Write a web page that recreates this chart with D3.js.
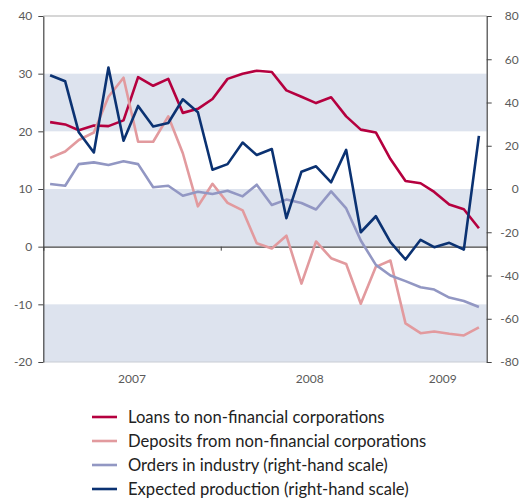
<!DOCTYPE html>
<html>
<head>
<meta charset="utf-8">
<script src="https://cdn.jsdelivr.net/npm/d3@7"></script>
<style>
  body { margin: 0; background: #fff; }
  svg { font-family: Lato, "Open Sans", sans-serif; }
</style>
</head>
<body>
<script>
'use strict';

// months, one point per month (mid-month)
const months = [
  '2007-01', '2007-02', '2007-03', '2007-04', '2007-05', '2007-06',
  '2007-07', '2007-08', '2007-09', '2007-10', '2007-11', '2007-12',
  '2008-01', '2008-02', '2008-03', '2008-04', '2008-05', '2008-06',
  '2008-07', '2008-08', '2008-09', '2008-10', '2008-11', '2008-12',
  '2009-01', '2009-02', '2009-03', '2009-04', '2009-05', '2009-06'
];

// left scale (per cent)
const loans = [21.6, 21.2, 20.2, 21.0, 20.9, 21.9, 29.4, 27.9, 29.1, 23.2,
  23.9, 25.6, 29.1, 30.0, 30.5, 30.3, 27.1, 26.0, 24.9, 25.9,
  22.6, 20.3, 19.8, 15.2, 11.4, 11.0, 9.5, 7.3, 6.5, 3.2];
const deposits = [15.4, 16.5, 18.5, 19.8, 26.0, 29.3, 18.2, 18.2, 22.6, 16.2,
  7.0, 10.9, 7.6, 6.3, 0.6, -0.3, 1.9, -6.4, 0.9, -2.0,
  -3.0, -9.9, -3.5, -2.4, -13.3, -15.0, -14.7, -15.1, -15.4, -14.0];

// right scale
const orders = [2.3, 1.5, 11.5, 12.3, 11.1, 12.8, 11.5, 0.8, 1.5, -3.1,
  -1.3, -2.3, -0.8, -3.4, 2.0, -7.4, -4.9, -6.5, -9.5, -1.1,
  -9.0, -23.8, -35.1, -40.0, -42.6, -45.4, -46.5, -50.2, -51.8, -54.6];
const expected = [52.6, 49.8, 26.2, 16.9, 56.2, 22.3, 38.4, 28.9, 30.5, 41.5,
  35.5, 8.9, 11.5, 21.5, 15.7, 18.5, -13.5, 8.0, 10.5, 3.1,
  18.1, -20.0, -12.6, -24.6, -32.6, -23.5, -26.9, -24.9, -28.0, 24.6];

const leftTicks = [-20, -10, 0, 10, 20, 30, 40];
const rightTicks = [-80, -60, -40, -20, 0, 20, 40, 60, 80];
const bands = [[20, 30], [0, 10], [-20, -10]];
const years = ['2007', '2008', '2009'];

const series = [
  {name: 'Loans to non-financial corporations', values: loans, axis: 'left', color: '#b5003f'},
  {name: 'Deposits from non-financial corporations', values: deposits, axis: 'left', color: '#e29a9e'},
  {name: 'Orders in industry (right-hand scale)', values: orders, axis: 'right', color: '#9297c3'},
  {name: 'Expected production (right-hand scale)', values: expected, axis: 'right', color: '#0b3272'}
];

const W = 520, H = 500;
const x0 = 43.3, x1 = 486.7, yTop = 16, yBot = 362;

const parse = d3.utcParse('%Y-%m');
const dates = months.map((m) => d3.utcDay.offset(parse(m), 14));
const plain = (d) => String(d); // hyphen minus, as in the original

const x = d3.scaleUtc()
  .domain([parse('2007-01'), parse('2009-07')])
  .range([x0, x1]);
const yL = d3.scaleLinear().domain([-20, 40]).range([yBot, yTop]);
const yR = d3.scaleLinear().domain([-80, 80]).range([yBot, yTop]);

const svg = d3.select('body').append('svg')
  .attr('width', W)
  .attr('height', H);

// shaded bands
svg.append('g').selectAll('rect')
  .data(bands)
  .enter()
  .append('rect')
    .attr('x', x0)
    .attr('width', x1 - x0)
    .attr('y', (d) => yL(d[1]))
    .attr('height', (d) => yL(d[0]) - yL(d[1]))
    .attr('fill', '#dde3ee');

// top and bottom frame
svg.append('line')
  .attr('x1', x0).attr('x2', x1)
  .attr('y1', yL(40)).attr('y2', yL(40))
  .attr('stroke', '#c8c8c8').attr('stroke-width', 1.5);
svg.append('line')
  .attr('x1', x0).attr('x2', x1)
  .attr('y1', yL(-20)).attr('y2', yL(-20))
  .attr('stroke', '#c8ccd4').attr('stroke-width', 1);

// zero line with year ticks
const xAxis = d3.axisBottom(x)
  .tickValues([parse('2008-01'), parse('2009-01')])
  .tickSize(4)
  .tickFormat('');
const gx = svg.append('g')
  .attr('transform', 'translate(0,' + yL(0) + ')')
  .call(xAxis);
gx.select('.domain').attr('stroke', '#444').attr('stroke-width', 1.2);
gx.selectAll('.tick line').attr('stroke', '#444');

// year labels centred on the visible part of each year
const chartEnd = x.domain()[1];
svg.append('g').selectAll('text')
  .data(years)
  .enter()
  .append('text')
    .attr('x', (d) => {
      let a = parse(d + '-01');
      let b = d3.min([parse((+d + 1) + '-01'), chartEnd]);
      return (x(a) + x(b)) / 2;
    })
    .attr('y', 383)
    .attr('text-anchor', 'middle')
    .style('font-size', '12px')
    .attr('fill', '#5a5a5a')
    .text((d) => d);

// left axis
const gl = svg.append('g')
  .attr('transform', 'translate(' + x0 + ',0)')
  .call(d3.axisLeft(yL).tickValues(leftTicks).tickFormat(plain)
    .tickSize(5).tickPadding(6).tickSizeOuter(0));
gl.select('.domain').attr('stroke', '#444').attr('stroke-width', 1.2);
gl.selectAll('.tick line').attr('stroke', '#444');
gl.selectAll('.tick text')
  .style('font-size', '12px')
  .style('font-family', 'Lato, sans-serif')
  .attr('fill', '#5a5a5a');

// right axis, labels right-aligned at the edge
const gr = svg.append('g')
  .attr('transform', 'translate(' + x1 + ',0)')
  .call(d3.axisRight(yR).tickValues(rightTicks).tickFormat(plain)
    .tickSize(5).tickSizeOuter(0));
gr.select('.domain').attr('stroke', '#444').attr('stroke-width', 1.2);
gr.selectAll('.tick line').attr('stroke', '#444');
gr.selectAll('.tick text')
  .attr('x', 32)
  .attr('text-anchor', 'end')
  .style('font-size', '12px')
  .style('font-family', 'Lato, sans-serif')
  .attr('fill', '#5a5a5a');

// lines
series.forEach((s) => {
  let y = s.axis === 'left' ? yL : yR;
  let line = d3.line()
    .x((d, i) => x(dates[i]))
    .y((d) => y(d));
  svg.append('path')
    .datum(s.values)
    .attr('fill', 'none')
    .attr('stroke', s.color)
    .attr('stroke-width', 2.6)
    .attr('stroke-linejoin', 'round')
    .attr('d', line);
});

// legend
const legend = svg.append('g').selectAll('g')
  .data(series)
  .enter()
  .append('g')
    .attr('transform', (d, i) => 'translate(92,' + (417 + i * 24) + ')');
legend.append('line')
  .attr('x1', 0).attr('x2', 25)
  .attr('stroke', (d) => d.color)
  .attr('stroke-width', 2.6);
legend.append('text')
  .attr('x', 36)
  .attr('dy', '0.35em')
  .style('font-size', '16.6px')
  .attr('fill', '#222')
  .text((d) => d.name);
</script>
</body>
</html>
